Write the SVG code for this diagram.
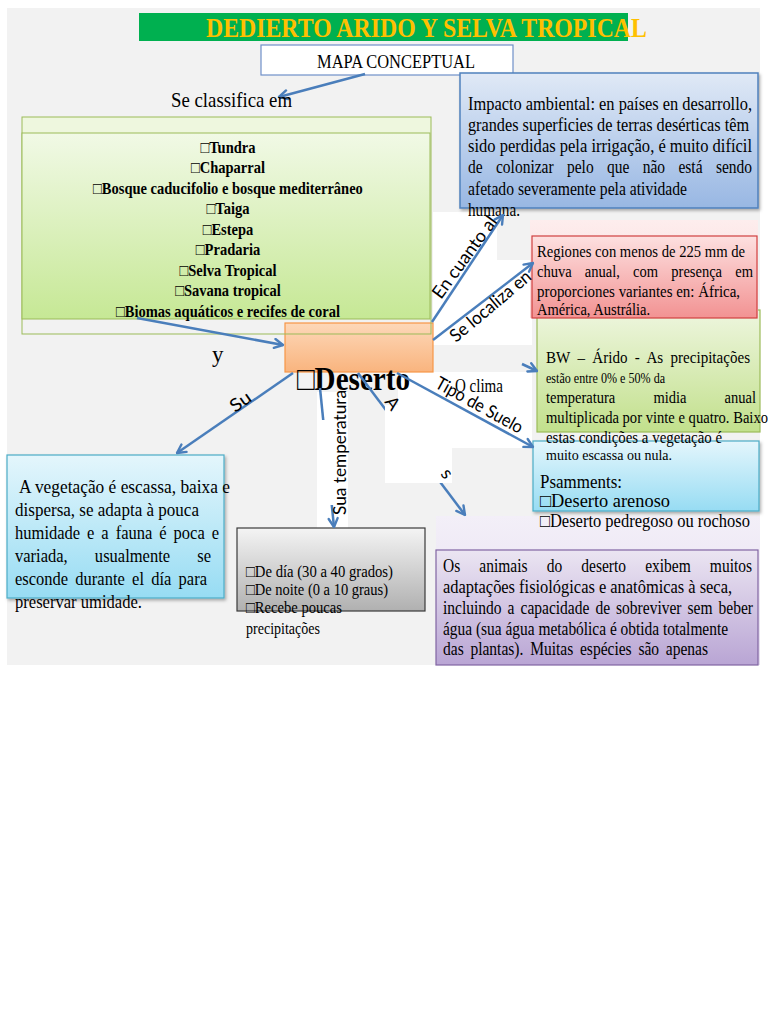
<svg xmlns="http://www.w3.org/2000/svg" width="768" height="1024" viewBox="0 0 768 1024">
<defs>
<style>
.sr{font-family:"Liberation Serif","Times New Roman",serif;fill:#000}
.sb{font-family:"Liberation Serif","Times New Roman",serif;font-weight:bold;fill:#000}
.lb{font-family:Lato,"Liberation Sans",sans-serif;font-size:18px;fill:#000}
.c{stroke:#4a7ebb;stroke-width:2.5;fill:none;marker-end:url(#arr)}
.wb{fill:#fff}
</style>
<linearGradient id="gBlue" x1="0" y1="0" x2="0" y2="1"><stop offset="0" stop-color="#e0e9f6"/><stop offset="1" stop-color="#98b7e3"/></linearGradient>
<linearGradient id="gList" x1="0" y1="0" x2="0" y2="1"><stop offset="0" stop-color="#f1f9e6"/><stop offset="1" stop-color="#c6e895"/></linearGradient>
<linearGradient id="gOrange" x1="0" y1="0" x2="0" y2="1"><stop offset="0" stop-color="#fdd8b9"/><stop offset="1" stop-color="#f9b47e"/></linearGradient>
<linearGradient id="gRed" x1="0" y1="0" x2="0" y2="1"><stop offset="0" stop-color="#fde0e0"/><stop offset="1" stop-color="#f29292"/></linearGradient>
<linearGradient id="gRedTop" x1="0" y1="0" x2="0" y2="1"><stop offset="0" stop-color="#fdeded"/><stop offset="1" stop-color="#f9d4d4"/></linearGradient>
<linearGradient id="gGreen" x1="0" y1="0" x2="0" y2="1"><stop offset="0" stop-color="#eef6df"/><stop offset="1" stop-color="#c2e08c"/></linearGradient>
<linearGradient id="gCyan" x1="0" y1="0" x2="0" y2="1"><stop offset="0" stop-color="#e4f6fc"/><stop offset="1" stop-color="#97dcf3"/></linearGradient>
<linearGradient id="gGray" x1="0" y1="0" x2="0" y2="1"><stop offset="0" stop-color="#f4f4f4"/><stop offset="1" stop-color="#b0b0b0"/></linearGradient>
<linearGradient id="gPurple" x1="0" y1="0" x2="0" y2="1"><stop offset="0" stop-color="#ebe5f2"/><stop offset="1" stop-color="#b9a5d4"/></linearGradient>
<linearGradient id="gPurpleTop" x1="0" y1="0" x2="0" y2="1"><stop offset="0" stop-color="#f3eff8"/><stop offset="1" stop-color="#e4dcef"/></linearGradient>
<marker id="arr" viewBox="0 0 12 12" refX="10.5" refY="6" markerWidth="12" markerHeight="12" markerUnits="userSpaceOnUse" orient="auto"><path d="M2,1.5 L10.5,6 L2,10.5" fill="none" stroke="#4a7ebb" stroke-width="2.4" stroke-linecap="round" stroke-linejoin="round"/></marker>
<filter id="sh" x="-5%" y="-5%" width="115%" height="125%"><feDropShadow dx="1.5" dy="2" stdDeviation="1.5" flood-color="#000" flood-opacity="0.3"/></filter>
</defs>

<rect x="0" y="0" width="768" height="1024" fill="#fff"/>
<rect x="7" y="8" width="753" height="657" fill="#f2f2f2"/>

<g id="label-backgrounds">
<rect class="wb" x="433" y="212" width="64" height="133"/>
<rect class="wb" x="497" y="260" width="35" height="85"/>
<rect class="wb" x="398" y="372" width="134" height="76"/>
<rect class="wb" x="317" y="392" width="31" height="136"/>
</g>

<g id="title">
<rect x="139" y="13" width="489" height="28" fill="#00b050"/>
<g transform="matrix(0.8696,0,0,1,26.86,0)">
<text class="sb" x="206" y="37" font-size="26.5" style="fill:#ffc000" textLength="507" lengthAdjust="spacingAndGlyphs">DEDIERTO ARIDO Y SELVA TROPICAL</text>
</g>
</g>

<g id="mapa">
<rect x="261" y="45" width="252" height="30" fill="#fff" stroke="#6f8fc8" stroke-width="1.2"/>
<g transform="matrix(0.8696,0,0,1,41.34,0)">
<text class="sr" x="317" y="68" font-size="18.4" textLength="181.7" lengthAdjust="spacingAndGlyphs">MAPA CONCEPTUAL</text>
</g>
</g>

<g id="impacto">
<rect x="460" y="73" width="298" height="135" fill="url(#gBlue)" stroke="#4f81bd" stroke-width="1.5" filter="url(#sh)"/>
<g class="sr" font-size="17.8" transform="matrix(0.8696,0,0,1,61.03,0)">
<text x="468" y="110" textLength="326.6" lengthAdjust="spacingAndGlyphs">Impacto ambiental: en países en desarrollo,</text>
<text x="468" y="131" textLength="323.2" lengthAdjust="spacingAndGlyphs">grandes superficies de terras desérticas têm</text>
<text x="468" y="152" textLength="326.6" lengthAdjust="spacingAndGlyphs">sido perdidas pela irrigação, é muito difícil</text>
<text x="468" y="173" word-spacing="10.9" textLength="326.6" lengthAdjust="spacingAndGlyphs">de colonizar pelo que não está sendo</text>
<text x="468" y="195" textLength="251.9" lengthAdjust="spacingAndGlyphs">afetado severamente pela atividade</text>
<text x="468" y="216" textLength="59.8" lengthAdjust="spacingAndGlyphs">humana.</text>
</g>
</g>

<g id="deserto">
<rect x="285" y="323" width="148" height="49" fill="url(#gOrange)" stroke="#f79646" stroke-width="1.2"/>
<g transform="matrix(0.8696,0,0,1,38.73,0)">
<text class="sb" x="297" y="390" font-size="33" textLength="130" lengthAdjust="spacingAndGlyphs">□Deserto</text>
</g>
</g>

<g id="biomas">
<rect x="22" y="117" width="409" height="16" fill="#eef7de"/>
<rect x="22" y="117" width="409" height="217" fill="none" stroke="#9bbb59" stroke-width="1"/>
<rect x="22" y="133" width="408" height="186" fill="url(#gList)" stroke="#9bbb59" stroke-width="1"/>
<g class="sb" font-size="16.7" text-anchor="middle" transform="matrix(0.8696,0,0,1,29.73,0)">
<text x="228" y="153">□Tundra</text>
<text x="228" y="173.5">□Chaparral</text>
<text x="228" y="194">□Bosque caducifolio e bosque mediterrâneo</text>
<text x="228" y="214.5">□Taiga</text>
<text x="228" y="235">□Estepa</text>
<text x="228" y="255.5">□Pradaria</text>
<text x="228" y="276">□Selva Tropical</text>
<text x="228" y="296.5">□Savana tropical</text>
<text x="228" y="317">□Biomas aquáticos e recifes de coral</text>
</g>
</g>

<g id="vegetacao">
<rect x="7" y="455" width="217" height="143" fill="url(#gCyan)" stroke="#4bacc6" stroke-width="1.2" filter="url(#sh)"/>
<g class="sr" font-size="19" transform="matrix(0.8696,0,0,1,1.96,0)">
<text x="19.6" y="493" textLength="242.7" lengthAdjust="spacingAndGlyphs">A vegetação é escassa, baixa e</text>
<text x="15" y="516" textLength="211.6" lengthAdjust="spacingAndGlyphs">dispersa, se adapta à pouca</text>
<text x="15" y="539" word-spacing="3.2" textLength="234.6" lengthAdjust="spacingAndGlyphs">humidade e a fauna é poca e</text>
<text x="15" y="562" word-spacing="26.5" textLength="225.4" lengthAdjust="spacingAndGlyphs">variada, usualmente se</text>
<text x="15" y="585" word-spacing="3.6" textLength="220.8" lengthAdjust="spacingAndGlyphs">esconde durante el día para</text>
<text x="15" y="608" textLength="146" lengthAdjust="spacingAndGlyphs">preservar umidade.</text>
</g>
</g>

<g id="temperatura">
<rect x="237" y="528" width="188" height="83" fill="url(#gGray)" stroke="#3a3a3a" stroke-width="1.2"/>
<g class="sr" font-size="16.7" transform="matrix(0.8696,0,0,1,32.08,0)">
<text x="246" y="577" textLength="169" lengthAdjust="spacingAndGlyphs">□De día (30 a 40 grados)</text>
<text x="246" y="595" textLength="163.3" lengthAdjust="spacingAndGlyphs">□De noite (0 a 10 graus)</text>
<text x="246" y="613" textLength="110.4" lengthAdjust="spacingAndGlyphs">□Recebe poucas</text>
<text x="246" y="634" textLength="85.1" lengthAdjust="spacingAndGlyphs">precipitações</text>
</g>
</g>

<g id="animais">
<rect x="436" y="516" width="324" height="149" fill="url(#gPurpleTop)"/>
<rect x="436" y="550" width="322" height="115" fill="url(#gPurple)" stroke="#8064a2" stroke-width="1.2"/>
<g class="sr" font-size="17.8" transform="matrix(0.8696,0,0,1,57.77,0)">
<text x="443" y="572" word-spacing="17.5" textLength="355.4" lengthAdjust="spacingAndGlyphs">Os animais do deserto exibem muitos</text>
<text x="443" y="593" textLength="332.4" lengthAdjust="spacingAndGlyphs">adaptações fisiológicas e anatômicas à seca,</text>
<text x="443" y="614" word-spacing="2.5" textLength="356.5" lengthAdjust="spacingAndGlyphs">incluindo a capacidade de sobreviver sem beber</text>
<text x="443" y="635" textLength="327.8" lengthAdjust="spacingAndGlyphs">água (sua água metabólica é obtida totalmente</text>
<text x="443" y="655" word-spacing="3.3" textLength="304.8" lengthAdjust="spacingAndGlyphs">das plantas). Muitas espécies são apenas</text>
</g>
</g>

<g id="suelo">
<rect x="533" y="441" width="226" height="70" fill="url(#gCyan)" stroke="#4bacc6" stroke-width="1.2" filter="url(#sh)"/>
<g class="sr" font-size="18.4" transform="matrix(0.8696,0,0,1,70.42,0)">
<text x="540" y="488" textLength="94.3" lengthAdjust="spacingAndGlyphs">Psamments:</text>
<text x="540" y="507" textLength="149.5" lengthAdjust="spacingAndGlyphs">□Deserto arenoso</text>
<text x="540" y="527" textLength="241.5" lengthAdjust="spacingAndGlyphs">□Deserto pedregoso ou rochoso</text>
</g>
</g>

<g id="clima">
<rect x="537" y="310" width="223" height="122" fill="url(#gGreen)" stroke="#9bbb59" stroke-width="1.2"/>
<g class="sr" font-size="16.7" transform="matrix(0.8696,0,0,1,71.2,0)">
<text x="546" y="363" word-spacing="4" textLength="234.6" lengthAdjust="spacingAndGlyphs">BW – Árido - As precipitações</text>
<text x="546" y="383" font-size="15" textLength="136.9" lengthAdjust="spacingAndGlyphs">estão entre 0% e 50% da</text>
<text x="546" y="403" word-spacing="39.7" textLength="241.5" lengthAdjust="spacingAndGlyphs">temperatura midia anual</text>
<text x="546" y="423" textLength="255.3" lengthAdjust="spacingAndGlyphs">multiplicada por vinte e quatro. Baixo</text>
<text x="546" y="443" textLength="202.4" lengthAdjust="spacingAndGlyphs">estas condições a vegetação é</text>
<text x="546" y="460" font-size="13.8" textLength="144.9" lengthAdjust="spacingAndGlyphs">muito escassa ou nula.</text>
</g>
</g>

<g id="localizacao">
<rect x="530" y="220" width="228" height="98" fill="url(#gRedTop)"/>
<rect x="532" y="236" width="225" height="82" fill="url(#gRed)" stroke="#d04040" stroke-width="1.2"/>
<g class="sr" font-size="16.7" transform="matrix(0.8696,0,0,1,70.02,0)">
<text x="537" y="257" textLength="239.2" lengthAdjust="spacingAndGlyphs">Regiones con menos de 225 mm de</text>
<text x="537" y="277" word-spacing="11" textLength="248.4" lengthAdjust="spacingAndGlyphs">chuva anual, com presença em</text>
<text x="537" y="297" textLength="233.5" lengthAdjust="spacingAndGlyphs">proporciones variantes en: África,</text>
<text x="537" y="315" textLength="130" lengthAdjust="spacingAndGlyphs">América, Austrália.</text>
</g>
</g>

<g id="connectors">
<path class="c" d="M365,74 L279,97"/>
<path class="c" d="M137,318 L283,345"/>
<path class="c" d="M432,322 L503,215"/>
<path class="c" d="M433,340 L533,263"/>
<path class="c" d="M293,373 L177,453"/>
<path class="c" d="M320,388 L334,527"/>
<path class="c" d="M358,373 L465,515"/>
<path class="c" d="M397,373 L533,447"/>
<path class="c" d="M522,364 L537,371"/>
</g>

<g id="label-covers">
<rect class="wb" x="385" y="405" width="67" height="78"/>
<rect class="wb" x="317" y="420" width="31" height="85"/>
</g>

<g id="labels">
<g transform="matrix(0.8696,0,0,1,22.3,0)">
<text class="sr" x="171" y="107" font-size="20.5" textLength="139.2" lengthAdjust="spacingAndGlyphs">Se classifica em</text>
</g>
<text class="sr" x="212" y="362" font-size="23">y</text>
<g transform="matrix(0.8696,0,0,1,59.33,0)">
<text class="sr" x="455" y="392" font-size="17.8" textLength="55.2" lengthAdjust="spacingAndGlyphs">O clima</text>
</g>
<text class="lb" transform="translate(441,300) rotate(-54)" textLength="97" lengthAdjust="spacingAndGlyphs">En cuanto al</text>
<text class="lb" transform="translate(456,343) rotate(-40)" textLength="100" lengthAdjust="spacingAndGlyphs">Se localiza en</text>
<text class="lb" transform="translate(235,413) rotate(-35)" textLength="22" lengthAdjust="spacingAndGlyphs">Su</text>
<text class="lb" transform="translate(434,387) rotate(29)" textLength="97" lengthAdjust="spacingAndGlyphs">Tipo de Suelo</text>
<text class="lb" transform="translate(346,515) rotate(-90)" textLength="125" lengthAdjust="spacingAndGlyphs">Sua temperatura</text>
<text class="lb" transform="translate(384,402) rotate(53)">A</text>
<text class="lb" font-size="13" transform="translate(440,474) rotate(53)">s</text>
</g>
</svg>
